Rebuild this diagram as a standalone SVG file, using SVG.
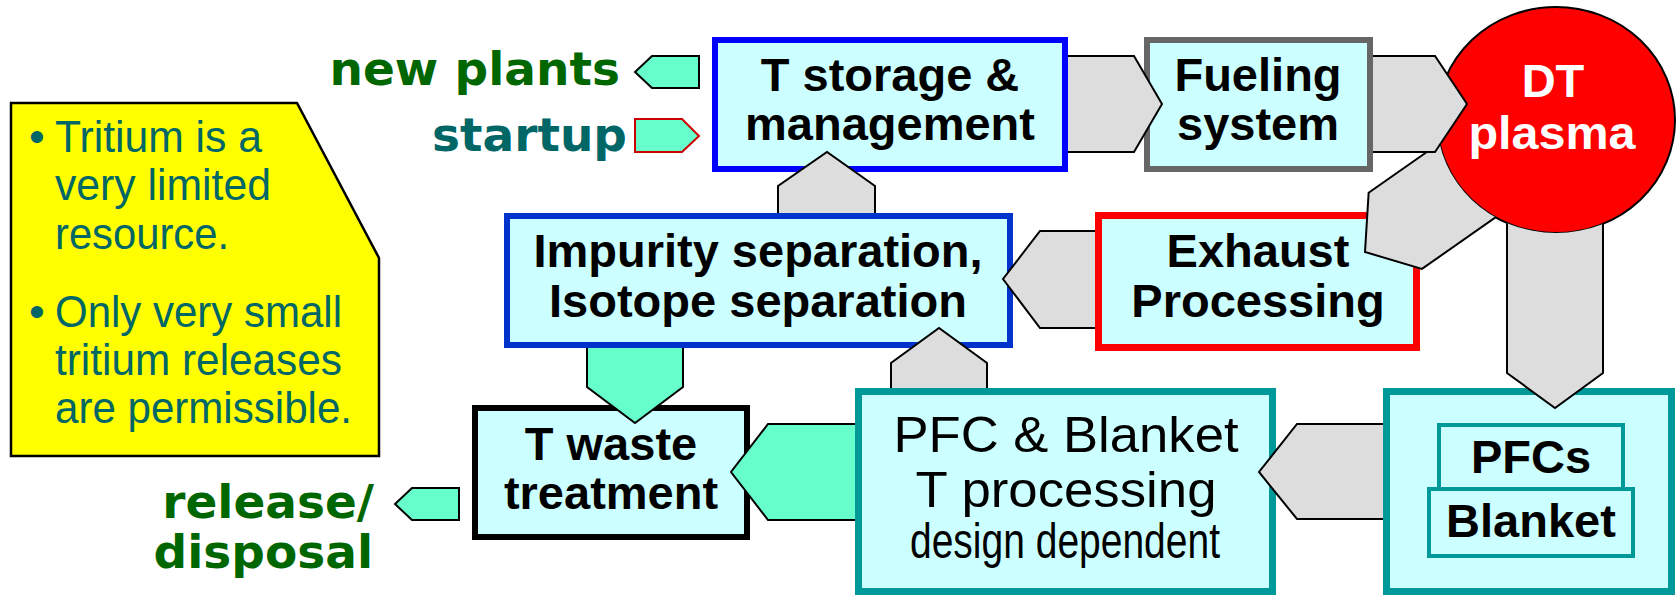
<svg xmlns="http://www.w3.org/2000/svg" width="1676" height="596" viewBox="0 0 1676 596">
<style>
.box{fill:#CCFFFF}
.bt{font-family:"Liberation Sans",Arial,sans-serif;font-weight:bold;font-size:47px;text-anchor:middle;fill:#000}
.rt{font-family:"Liberation Sans",Arial,sans-serif;font-size:50px;text-anchor:middle;fill:#000}
.gl{font-family:"DejaVu Sans",Verdana,sans-serif;font-weight:bold;font-size:47px;text-anchor:end}
.note{font-family:"Liberation Sans",Arial,sans-serif;font-size:45px;fill:#006666}
.ga{fill:#DDDDDD;stroke:#000;stroke-width:2;stroke-linejoin:miter}
.ta{fill:#66FFCC;stroke:#000;stroke-width:2}
</style>
<defs>
<clipPath id="outside">
<path clip-rule="evenodd" d="M0,0 H1676 V596 H0 Z M1437,120 a119,113 0 1,0 238,0 a119,113 0 1,0 -238,0 Z"/>
</clipPath>
</defs>
<rect width="1676" height="596" fill="#fff"/>

<g id="note">
<polygon points="11,103 297,103 379,258 379,456 11,456" fill="#FFFF00" stroke="#000" stroke-width="2.5"/>
<text class="note" x="29" y="152" font-size="36">•</text>
<text class="note" x="55" y="152" textLength="207" lengthAdjust="spacingAndGlyphs">Tritium is a</text>
<text class="note" x="55" y="200" textLength="216" lengthAdjust="spacingAndGlyphs">very limited</text>
<text class="note" x="55" y="249" textLength="174" lengthAdjust="spacingAndGlyphs">resource.</text>
<text class="note" x="29" y="327" font-size="36">•</text>
<text class="note" x="55" y="327" textLength="287" lengthAdjust="spacingAndGlyphs">Only very small</text>
<text class="note" x="55" y="375" textLength="287" lengthAdjust="spacingAndGlyphs">tritium releases</text>
<text class="note" x="55" y="423" textLength="297" lengthAdjust="spacingAndGlyphs">are permissible.</text>
</g>

<g id="label-new-plants">
<text class="gl" x="620" y="85" fill="#006600">new plants</text>
</g>
<g id="label-startup">
<text class="gl" x="627" y="151" fill="#006666">startup</text>
</g>
<g id="label-release">
<text class="gl" x="374" y="518" fill="#006600" font-size="46">release/</text>
<text class="gl" x="373" y="568" fill="#006600" font-size="46">disposal</text>
</g>

<g id="t-storage">
<rect class="box" x="715" y="40" width="350" height="129" stroke="#0000FF" stroke-width="6"/>
<text class="bt" x="890" y="91">T storage &amp;</text>
<text class="bt" x="890" y="140">management</text>
</g>

<g id="fueling">
<rect class="box" x="1147" y="40" width="223" height="129" stroke="#666666" stroke-width="6"/>
<text class="bt" x="1258" y="91">Fueling</text>
<text class="bt" x="1258" y="140">system</text>
</g>

<g id="impurity">
<rect class="box" x="507" y="216" width="503" height="129" stroke="#0033CC" stroke-width="6"/>
<text class="bt" x="758" y="267">Impurity separation,</text>
<text class="bt" x="758" y="317">Isotope separation</text>
</g>

<g id="exhaust">
<rect class="box" x="1098.5" y="215.5" width="318" height="132" stroke="#FF0000" stroke-width="7"/>
<text class="bt" x="1258" y="267">Exhaust</text>
<text class="bt" x="1258" y="317">Processing</text>
</g>

<g id="t-waste">
<rect class="box" x="475" y="408" width="272" height="129" stroke="#000" stroke-width="6"/>
<text class="bt" x="611" y="460">T waste</text>
<text class="bt" x="611" y="509">treatment</text>
</g>

<g id="pfc-processing">
<rect class="box" x="858.5" y="391.5" width="414" height="200" stroke="#009999" stroke-width="7"/>
<text class="rt" x="1066" y="452" textLength="345" lengthAdjust="spacingAndGlyphs">PFC &amp; Blanket</text>
<text class="rt" x="1066" y="507" textLength="301" lengthAdjust="spacingAndGlyphs">T processing</text>
<text class="rt" x="1065" y="558" font-size="38" textLength="310" lengthAdjust="spacingAndGlyphs">design dependent</text>
</g>

<g id="pfcs-blanket">
<rect class="box" x="1386.5" y="391.5" width="285" height="200" stroke="#009999" stroke-width="7"/>
<rect class="box" x="1439" y="425" width="184" height="64" stroke="#009999" stroke-width="4"/>
<text class="bt" x="1531" y="473">PFCs</text>
<rect class="box" x="1429" y="489" width="204" height="67" stroke="#009999" stroke-width="4"/>
<text class="bt" x="1531" y="537">Blanket</text>
</g>

<g id="plasma">
<ellipse cx="1556" cy="120" rx="119" ry="113" fill="#FF0000" stroke="#000" stroke-width="2"/>
<text class="bt" x="1553" y="97" style="fill:#fff">DT</text>
<text class="bt" x="1552" y="149" style="fill:#fff" textLength="167" lengthAdjust="spacingAndGlyphs">plasma</text>
</g>

<g id="connectors">
<path class="ta" d="M652,56 L699,56 L699,88 L652,88 L635,72 Z"/>
<path class="ta" d="M635,119 L682,119 L699,136 L682,152 L635,152 Z" style="stroke:#CC0000"/>
<path class="ga" d="M1068,56 L1134,56 L1162,104 L1134,152 L1068,152"/>
<g clip-path="url(#outside)">
<path class="ga" transform="translate(1365,252) rotate(145)" d="M-200,-46.5 L-37,-46.5 L0,0 L-37,46.5 L-200,46.5"/>
<path class="ga" d="M1507,200 L1507,373 L1555,408 L1603,373 L1603,200"/>
</g>
<path class="ga" d="M1373,56 L1435,56 L1467,104 L1435,152 L1373,152"/>
<path class="ga" d="M1095,231 L1040,231 L1003,279 L1040,328 L1095,328"/>
<path class="ga" d="M778,213 L778,186 L827,152 L875,186 L875,213"/>
<path class="ta" d="M587,348 L587,387 L635,423 L683,387 L683,348"/>
<path class="ga" d="M891,388 L891,363 L939,328 L987,363 L987,388"/>
<path class="ta" d="M855,424 L768,424 L731,472 L768,520 L855,520"/>
<path class="ga" d="M1383,424 L1297,424 L1259,472 L1297,519 L1383,519"/>
<path class="ta" d="M412,488 L459,488 L459,520 L412,520 L395,504 Z"/>
</g>
</svg>
